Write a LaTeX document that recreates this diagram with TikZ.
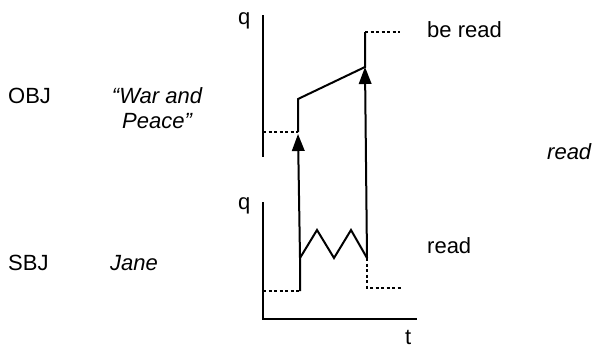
\documentclass[tikz,border=0pt]{standalone}
\usepackage{fontspec}
\setmainfont{Liberation Sans}
\usetikzlibrary{arrows.meta}
\begin{document}
\begin{tikzpicture}[x=1pt,y=-1pt,
  lbl/.style={inner sep=0pt,font=\fontsize{22}{26}\selectfont},
  axisline/.style={line width=2pt},
  curve/.style={line width=2pt,line join=miter},
  dotline/.style={line width=1.7pt,dash pattern=on 3pt off 2.5pt},
  uparrow/.style={line width=2pt,-{Triangle[length=17pt,width=12.5pt]}}]
\useasboundingbox (0,0) rectangle (594,348);
% labels
\node[lbl,anchor=base west] (qtop) at (238,24.7) {q};
\node[lbl,anchor=base west] (qlow) at (238,209.7) {q};
\node[lbl,anchor=base west] (beread) at (427,37) {be read};
\node[lbl,anchor=base west] (readlow) at (427,253) {read};
\node[lbl,anchor=base west,font=\fontsize{22}{26}\selectfont\itshape] (readit) at (547,159) {read};
\node[lbl,anchor=base west] (tlab) at (405,344) {t};
\node[lbl,anchor=base west] (obj) at (8,103) {OBJ};
\node[lbl,anchor=base,font=\fontsize{22}{26}\selectfont\itshape] (war) at (157,103) {“War and};
\node[lbl,anchor=base,font=\fontsize{22}{26}\selectfont\itshape] (peace) at (157,128) {Peace”};
\node[lbl,anchor=base west] (sbj) at (8,270) {SBJ};
\node[lbl,anchor=base west,font=\fontsize{22}{26}\selectfont\itshape] (jane) at (110,270) {Jane};
% coordinates top graph
\coordinate (ta1) at (263,15);
\coordinate (ta2) at (263,157);
\coordinate (td0) at (263,132);
\coordinate (p1) at (298,132);
\coordinate (p2) at (298,99);
\coordinate (p3) at (365,67);
\coordinate (p4) at (365,32);
\coordinate (p5) at (400,32);
% coordinates lower graph
\coordinate (la1) at (263,202);
\coordinate (la2) at (263,319);
\coordinate (la3) at (417,319);
\coordinate (ld0) at (263,291);
\coordinate (z0b) at (300,291);
\coordinate (z0) at (300,258);
\coordinate (z1) at (317,230);
\coordinate (z2) at (334,258);
\coordinate (z3) at (351,230);
\coordinate (z4) at (367,258);
\coordinate (z5) at (367,288);
\coordinate (z6) at (402,288);
\coordinate (a1t) at (298,134);
\coordinate (a2t) at (365,67);
% axes
\draw[axisline] (ta1) -- (ta2);
\draw[axisline] (la1) -- (la2) -- (la3);
% top graph
\draw[dotline] (td0) -- (p1);
\draw[curve] (p1) -- (p2) -- (p3) -- (p4);
\draw[dotline] (p4) -- (p5);
% lower graph
\draw[dotline] (ld0) -- (z0b);
\draw[curve] (z0b) -- (z0) -- (z1) -- (z2) -- (z3) -- (z4);
\draw[dotline] (z4) -- (z5) -- (z6);
% arrows
\draw[uparrow] (z0) -- (a1t);
\draw[uparrow] (z4) -- (a2t);
\end{tikzpicture}
\end{document}
